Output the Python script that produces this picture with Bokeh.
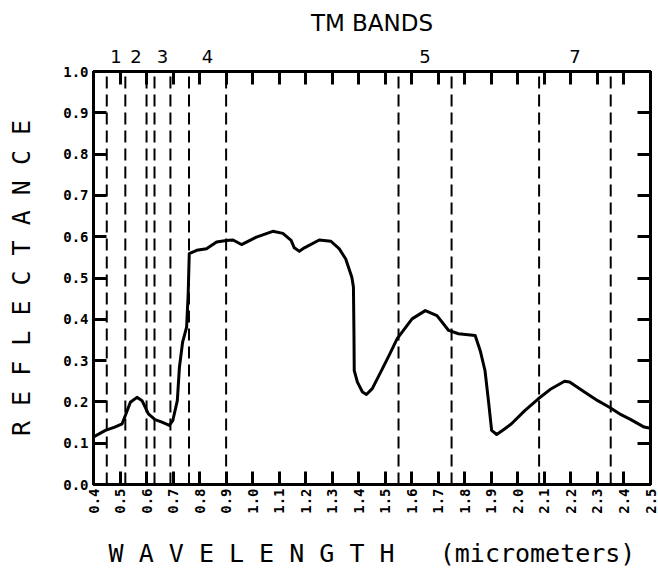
import math
from bokeh.plotting import figure
from bokeh.models import LinearAxis, FixedTicker, PrintfTickFormatter, Range1d
from bokeh.embed import file_html
from bokeh.resources import INLINE

# ---- data ----
wavelength = [0.40, 0.445, 0.48, 0.508, 0.52, 0.539, 0.564, 0.583, 0.607, 0.632,
              0.658, 0.686, 0.699, 0.716, 0.724, 0.736, 0.751, 0.757, 0.761, 0.789,
              0.826, 0.864, 0.901, 0.926, 0.958, 1.014, 1.076, 1.114, 1.145, 1.157,
              1.176, 1.195, 1.251, 1.295, 1.326, 1.351, 1.374, 1.380, 1.382, 1.383,
              1.395, 1.414, 1.429, 1.451, 1.489, 1.514, 1.545, 1.601, 1.651, 1.695,
              1.739, 1.776, 1.839, 1.858, 1.876, 1.889, 1.901, 1.920, 1.951, 1.976,
              2.026, 2.076, 2.126, 2.176, 2.195, 2.251, 2.301, 2.345, 2.389, 2.426,
              2.476, 2.500]
reflectance = [0.115, 0.131, 0.139, 0.147, 0.167, 0.199, 0.211, 0.203, 0.171, 0.157,
               0.151, 0.143, 0.155, 0.203, 0.284, 0.345, 0.381, 0.462, 0.559, 0.567,
               0.571, 0.587, 0.591, 0.592, 0.581, 0.599, 0.613, 0.608, 0.591, 0.573,
               0.565, 0.573, 0.592, 0.589, 0.571, 0.546, 0.502, 0.478, 0.365, 0.276,
               0.248, 0.224, 0.218, 0.232, 0.280, 0.312, 0.353, 0.401, 0.421, 0.409,
               0.373, 0.365, 0.361, 0.324, 0.276, 0.203, 0.131, 0.121, 0.135, 0.147,
               0.179, 0.207, 0.232, 0.250, 0.248, 0.224, 0.203, 0.187, 0.169, 0.157,
               0.139, 0.136]

band_edges = [0.45, 0.52, 0.60, 0.63, 0.69, 0.76, 0.90, 1.55, 1.75, 2.08, 2.35]
band_names = ["1", "2", "3", "4", "5", "7"]
band_label_pos = [0.485, 0.56, 0.66, 0.83, 1.65, 2.215]

x_ticks = [0.4, 0.5, 0.6, 0.7, 0.8, 0.9, 1.0, 1.1, 1.2, 1.3, 1.4, 1.5, 1.6,
           1.7, 1.8, 1.9, 2.0, 2.1, 2.2, 2.3, 2.4, 2.5]
y_ticks = [0.0, 0.1, 0.2, 0.3, 0.4, 0.5, 0.6, 0.7, 0.8, 0.9, 1.0]

NB = "\u00a0"
x_title = NB.join("WAVELENGTH") + NB * 3 + "(micrometers)"
y_title = NB.join("REFLECTANCE")
top_title = "TM BANDS"

X0, X1, Y0, Y1 = 0.4, 2.5, 0.0, 1.0

FONT = "DejaVu Sans"
MONO = "DejaVu Sans Mono"
TICK_IN = 13
TICK_W = 3

p = figure(width=658, height=570, x_range=Range1d(X0, X1), y_range=Range1d(Y0, Y1),
           output_backend="svg", toolbar_location=None,
           x_axis_location=None, y_axis_location=None,
           min_border_left=93, min_border_right=8, min_border_top=71, min_border_bottom=86)
for g in p.grid:
    g.visible = False
p.outline_line_color = "black"
p.outline_line_width = 3
p.background_fill_color = "white"
p.border_fill_color = "white"


def style(ax):
    ax.axis_line_color = None
    ax.major_tick_line_color = "black"
    ax.major_tick_line_width = TICK_W
    ax.minor_tick_line_color = "black"
    ax.minor_tick_line_width = TICK_W
    ax.major_tick_out = 0
    ax.major_tick_in = TICK_IN
    ax.minor_tick_out = 0
    ax.minor_tick_in = 0
    ax.axis_label_text_font = MONO
    ax.axis_label_text_font_style = "normal"
    ax.axis_label_text_color = "black"
    ax.major_label_text_color = "black"


# bottom axis
bottom = LinearAxis(ticker=FixedTicker(ticks=x_ticks),
                    formatter=PrintfTickFormatter(format="%.1f"),
                    axis_label=x_title)
style(bottom)
bottom.major_label_orientation = math.pi / 2
bottom.major_label_standoff = 4
bottom.major_label_text_font = MONO
bottom.major_label_text_font_style = "bold"
bottom.major_label_text_font_size = "14px"
bottom.axis_label_text_font_size = "25px"
bottom.axis_label_standoff = 22
p.add_layout(bottom, "below")

# left axis
left = LinearAxis(ticker=FixedTicker(ticks=y_ticks),
                  formatter=PrintfTickFormatter(format="%.1f"),
                  axis_label=y_title)
style(left)
left.major_label_standoff = 5
left.major_label_text_font = MONO
left.major_label_text_font_style = "bold"
left.major_label_text_font_size = "14px"
left.axis_label_text_font_size = "25px"
left.axis_label_standoff = 24
p.add_layout(left, "left")

# right axis: inner ticks, no labels
right = LinearAxis(ticker=FixedTicker(ticks=y_ticks))
style(right)
right.major_label_overrides = {t: "" for t in y_ticks}
right.major_label_standoff = 0
p.add_layout(right, "right")

# top axis: band labels (major, no tick) + inner ticks every 0.1 (minor)
top = LinearAxis(ticker=FixedTicker(ticks=band_label_pos, minor_ticks=x_ticks),
                 axis_label=top_title)
style(top)
top.major_tick_in = 0
top.major_tick_line_color = None
top.minor_tick_in = TICK_IN
top.major_label_overrides = {pos: name for pos, name in zip(band_label_pos, band_names)}
top.major_label_standoff = 9
top.major_label_text_font = FONT
top.major_label_text_font_size = "18px"
top.axis_label_text_font = FONT
top.axis_label_text_font_size = "23px"
top.axis_label_standoff = 11
p.add_layout(top, "above")

# band edge dashed lines
p.segment(x0=band_edges, x1=band_edges, y0=[Y0] * len(band_edges), y1=[Y1] * len(band_edges),
          line_color="black", line_width=2, line_dash="12 6")

# reflectance curve
p.line(wavelength, reflectance, line_color="black", line_width=3, line_join="round")

open("out.html", "w").write(file_html(p, INLINE))
